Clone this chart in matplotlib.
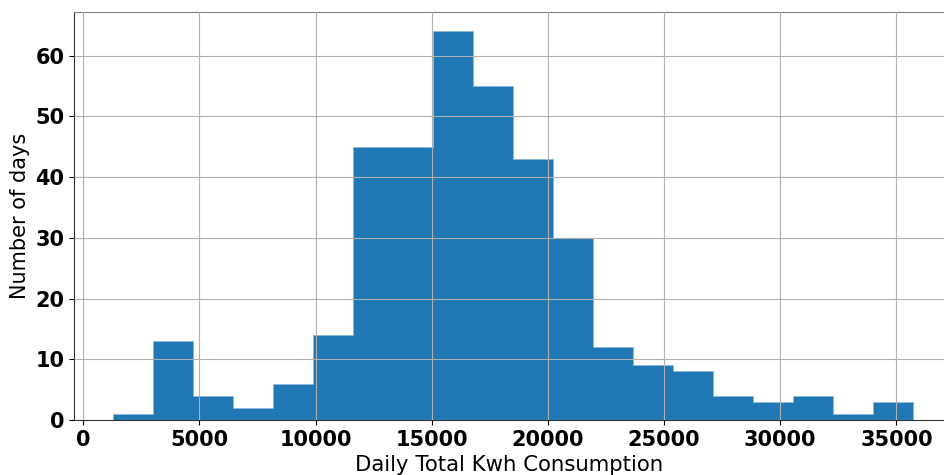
import numpy as np
import matplotlib
matplotlib.use("Agg")
import matplotlib.pyplot as plt

# histogram of daily total kWh consumption (20 bins)
bin_start = 1291
bin_width = 1722
counts = [1, 13, 4, 2, 6, 14, 45, 45, 64, 55, 43, 30, 12, 9, 8, 4, 3, 4, 1, 3]

edges = bin_start + bin_width * np.arange(len(counts) + 1)

fig = plt.figure(figsize=(9.44, 4.75), dpi=100)
ax = fig.add_axes([0.0784, 0.1158, 0.9216, 0.8589])

ax.hist(edges[:-1], bins=edges, weights=counts, histtype="stepfilled",
        facecolor="#1f77b4", edgecolor="#8fb8dc", linewidth=0.6)

ax.set_xlim(-400, 37050)
ax.grid(True, color="#b0b0b0", linewidth=0.8)
ax.set_axisbelow(False)

ax.set_xlabel("Daily Total Kwh Consumption", fontsize=15.3)
ax.set_ylabel("Number of days", fontsize=15)
ax.tick_params(labelsize=15)
for lbl in ax.get_xticklabels() + ax.get_yticklabels():
    lbl.set_fontweight("bold")

ax.spines["top"].set_color("#808080")
ax.spines["right"].set_visible(False)
ax.spines["left"].set_color("#333333")
ax.spines["bottom"].set_color("#333333")

fig.savefig("out.png", dpi=100)
